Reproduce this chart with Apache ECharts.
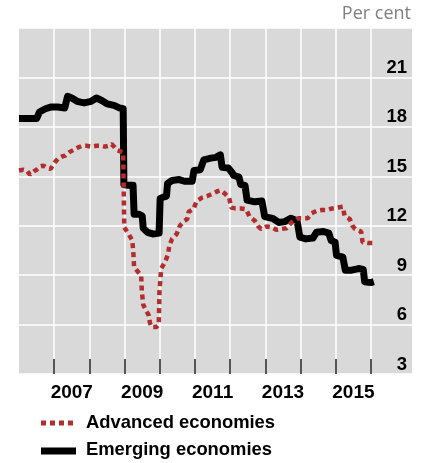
<!DOCTYPE html>
<html>
<head>
<meta charset="utf-8">
<script src="https://cdn.jsdelivr.net/npm/echarts@6/dist/echarts.min.js"></script>
<style>html,body{margin:0;padding:0;background:#fff;}#c{width:422px;height:463px;}</style>
</head>
<body>
<div id="c"></div>
<script>
// Decimal-year dates and values (per cent)
const emergingT = [2006.00,2006.25,2006.50,2006.58,2006.75,2006.90,2007.10,2007.30,2007.38,2007.50,2007.65,2007.85,2008.05,2008.20,2008.35,2008.50,2008.70,2008.85,2008.96,2008.98,2009.10,2009.24,2009.27,2009.40,2009.50,2009.53,2009.65,2009.80,2009.98,2010.01,2010.12,2010.19,2010.22,2010.35,2010.55,2010.70,2010.92,2010.97,2011.15,2011.25,2011.45,2011.60,2011.72,2011.77,2011.95,2012.06,2012.10,2012.25,2012.30,2012.42,2012.48,2012.70,2012.90,2012.98,2013.20,2013.38,2013.55,2013.72,2013.90,2013.98,2014.15,2014.35,2014.45,2014.65,2014.80,2014.87,2014.98,2015.02,2015.20,2015.27,2015.45,2015.65,2015.78,2015.82,2016.00,2016.08];
const emergingV = [18.5,18.5,18.5,18.9,19.1,19.2,19.2,19.15,19.85,19.75,19.55,19.45,19.55,19.75,19.6,19.4,19.3,19.15,19.1,14.5,14.45,14.45,12.7,12.7,12.6,11.85,11.6,11.5,11.55,13.65,13.75,13.8,14.55,14.75,14.8,14.7,14.7,15.35,15.4,16.0,16.1,16.15,16.3,15.55,15.5,15.2,15.05,14.95,14.5,14.45,13.55,13.45,13.5,12.55,12.45,12.2,12.25,12.45,12.3,11.3,11.2,11.25,11.6,11.65,11.55,11.1,11.0,10.2,10.1,9.3,9.3,9.4,9.35,8.6,8.55,8.6];

const advancedT = [2006.00,2006.12,2006.22,2006.31,2006.42,2006.50,2006.60,2006.69,2006.80,2006.90,2007.02,2007.12,2007.22,2007.31,2007.42,2007.55,2007.68,2007.80,2007.92,2008.05,2008.20,2008.35,2008.44,2008.55,2008.63,2008.70,2008.77,2008.90,2008.96,2008.99,2009.10,2009.22,2009.25,2009.27,2009.38,2009.47,2009.49,2009.53,2009.62,2009.68,2009.72,2009.77,2009.90,2009.97,2009.99,2010.04,2010.15,2010.24,2010.27,2010.35,2010.48,2010.57,2010.70,2010.78,2010.82,2010.95,2011.05,2011.20,2011.35,2011.50,2011.65,2011.72,2011.85,2011.97,2012.03,2012.15,2012.30,2012.45,2012.55,2012.70,2012.80,2012.88,2013.03,2013.18,2013.31,2013.45,2013.60,2013.74,2013.93,2014.10,2014.20,2014.31,2014.45,2014.60,2014.75,2014.90,2015.05,2015.20,2015.25,2015.40,2015.47,2015.55,2015.72,2015.76,2015.92,2016.06];
const advancedV = [15.35,15.4,15.35,15.1,15.3,15.4,15.6,15.65,15.5,15.45,15.85,16.1,16.2,16.25,16.45,16.6,16.75,16.85,16.85,16.8,16.85,16.85,16.8,16.85,16.95,16.8,16.6,16.5,16.45,11.9,11.55,11.1,10.3,9.5,9.2,9.0,8.0,7.2,6.8,6.6,6.1,5.85,5.85,6.0,8.0,9.4,9.8,10.3,10.8,11.2,11.5,12.0,12.3,12.4,12.85,13.0,13.5,13.7,13.8,13.95,14.1,14.15,13.95,13.7,13.1,13.05,13.05,13.0,12.55,12.3,11.95,11.8,11.95,11.9,11.75,11.8,11.85,12.2,12.45,12.45,12.45,12.75,12.9,12.95,12.95,13.05,13.1,13.15,12.6,12.4,12.0,11.8,11.65,11.0,10.95,10.95];

const yearTicks = [2007,2008,2009,2010,2011,2012,2013,2014,2015,2016];
const yearLabels = [2007,2009,2011,2013,2015];
const yTickLabels = [3,6,9,12,15,18,21];
const seriesNames = ['Advanced economies', 'Emerging economies'];

const FONT = '"Liberation Sans", Arial, sans-serif';
const RED = '#b22d2d';
const chart = echarts.init(document.getElementById('c'), null, {renderer: 'canvas'});
chart.setOption({
  animation: false,
  backgroundColor: '#ffffff',
  grid: {left: 19, right: 10, top: 28, bottom: 89, show: true, backgroundColor: '#d9d9d9', borderWidth: 0},
  graphic: [
    {type: 'text', right: 11, top: 5,
     style: {text: 'Per cent', font: '18px "Open Sans", sans-serif', fill: '#7f7f7f'}},
    {type: 'line', shape: {x1: 41, y1: 423, x2: 76, y2: 423},
     style: {stroke: RED, lineWidth: 5, lineDash: [5, 4]}},
    {type: 'text', x: 86, y: 423,
     style: {text: seriesNames[0], font: 'bold 18.4px ' + FONT, fill: '#000', verticalAlign: 'middle'}},
    {type: 'line', shape: {x1: 41, y1: 451, x2: 76, y2: 451},
     style: {stroke: '#000', lineWidth: 7}},
    {type: 'text', x: 86, y: 450,
     style: {text: seriesNames[1], font: 'bold 18.4px ' + FONT, fill: '#000', verticalAlign: 'middle'}}
  ],
  xAxis: {
    type: 'value', min: 2006, max: 2017.165, interval: 1,
    axisLine: {show: false},
    axisTick: {show: true, inside: true, length: 15, customValues: yearTicks, lineStyle: {color: '#222', width: 1.5}},
    axisLabel: {customValues: yearLabels.map(y => y + 0.5), formatter: v => String(Math.floor(v)), margin: 9,
      fontFamily: FONT, fontSize: 19, fontWeight: 'bold', color: '#000'},
    splitLine: {show: true, lineStyle: {color: '#ffffff', width: 1.5}}
  },
  yAxis: {
    type: 'value', position: 'right', min: 3, max: 24, interval: 3,
    axisLine: {show: false}, axisTick: {show: false},
    axisLabel: {inside: true, margin: 5, customValues: yTickLabels, verticalAlign: 'bottom',
      fontFamily: FONT, fontSize: 18.5, fontWeight: 'bold', color: '#000'},
    splitLine: {show: true, lineStyle: {color: '#ffffff', width: 1.5}}
  },
  series: [
    {
      name: seriesNames[1], type: 'line', symbol: 'none', showSymbol: false, z: 2,
      data: emergingT.map((t, i) => [t, emergingV[i]]),
      lineStyle: {color: '#000000', width: 7, join: 'round'}
    },
    {
      name: seriesNames[0], type: 'line', symbol: 'none', showSymbol: false, z: 3,
      data: advancedT.map((t, i) => [t, advancedV[i]]),
      lineStyle: {color: RED, width: 4.5, type: [5, 4]}
    }
  ]
});
</script>
</body>
</html>
